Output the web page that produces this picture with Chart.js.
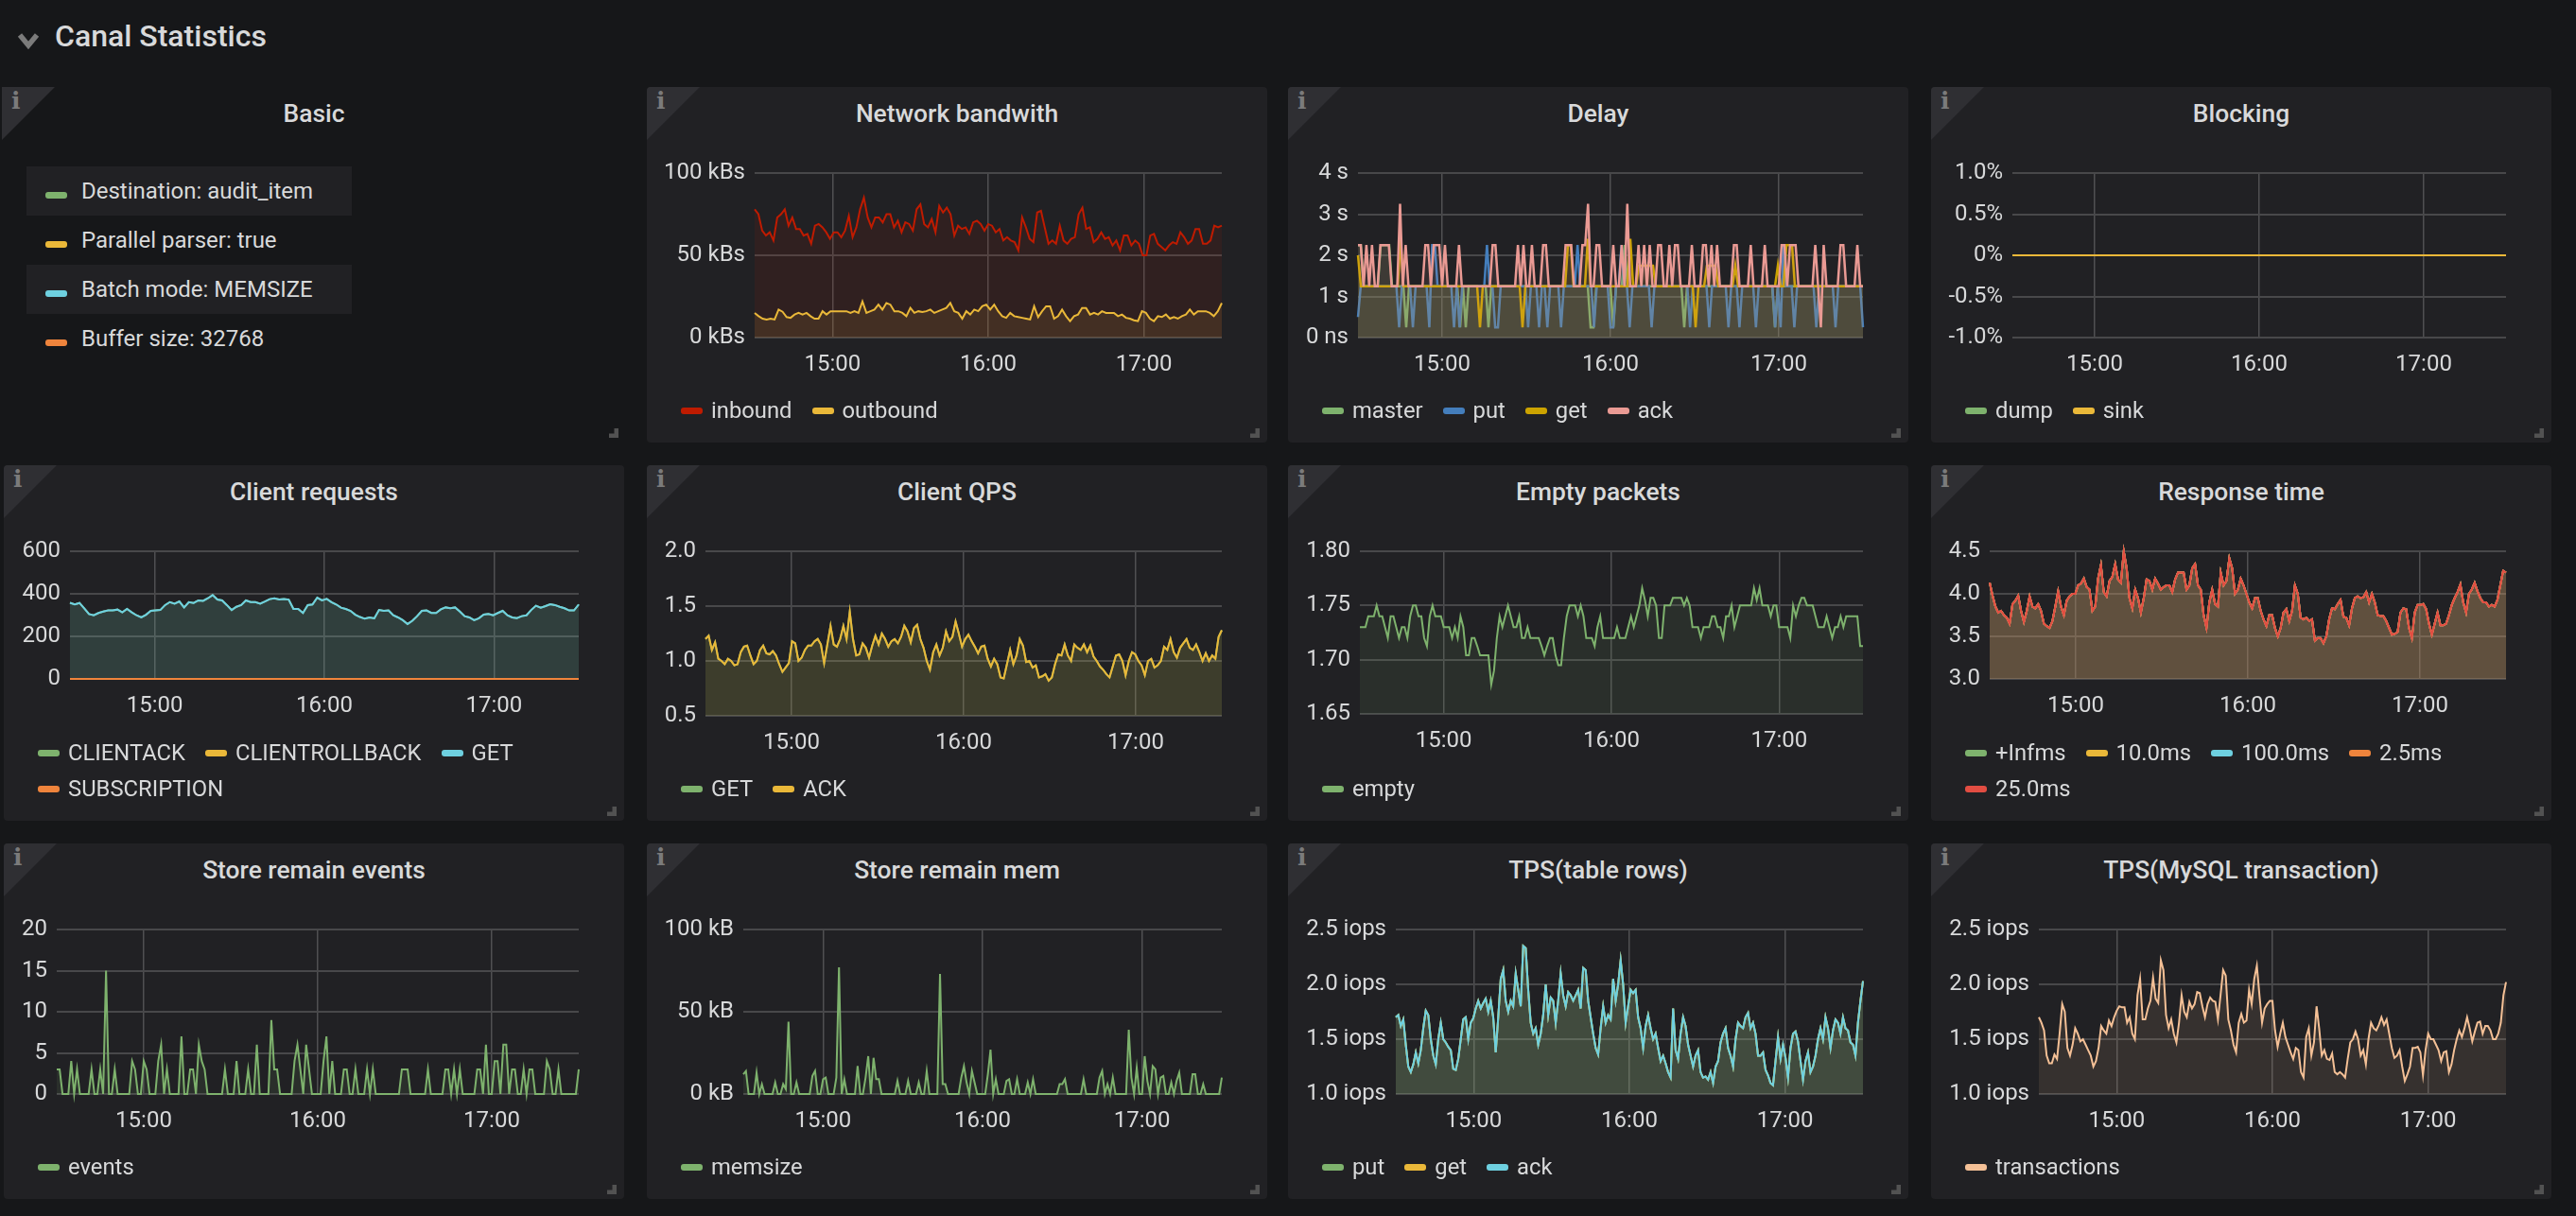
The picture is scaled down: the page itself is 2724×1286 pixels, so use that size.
<!DOCTYPE html>
<html>
<head>
<meta charset="utf-8">
<title>Canal Statistics</title>
<script src="https://cdn.jsdelivr.net/npm/chart.js@4"></script>
<style>
  html, body { margin: 0; background: #161719; }
  body { width: 2724px; height: 1286px; overflow: hidden; position: relative; font-family: Roboto, sans-serif; color: #d8d9da; }
  .row-title { position: absolute; left: 58px; top: 18px; font-size: 32px; line-height: 40px; font-weight: 500; }
  .chevron { position: absolute; left: 17px; top: 33px; width: 26px; height: 20px; }
  .panel { position: absolute; width: 656px; height: 376px; background: #212124; border-radius: 4px; overflow: hidden; }
  .panel.plain { background: transparent; overflow: visible; width: 660px; }
  .panel canvas { position: absolute; left: 0; top: 0; }
  .corner { position: absolute; left: 0; top: 0; width: 56px; height: 56px; background: #2f2f33; clip-path: polygon(0 0, 100% 0, 0 100%); }
  .corner-i { position: absolute; left: 10px; top: 0; font: bold 25px "DejaVu Serif", serif; line-height: 30px; color: #7b7b7b; }
  .panel-title { position: absolute; left: 0; right: 0; top: -1px; text-align: center; font-size: 26.4px; line-height: 58px; font-weight: 500; }
  .resize { position: absolute; right: 8px; bottom: 5px; width: 10px; height: 10px; background: #525252; clip-path: polygon(55% 0, 100% 0, 100% 100%, 0 100%, 0 55%, 55% 55%); }
  .legend { position: absolute; left: 36px; bottom: 15px; width: 590px; display: flex; flex-wrap: wrap; font-size: 23.8px; line-height: 38px; }
  .legend span.item { display: flex; align-items: center; margin-right: 21px; white-space: nowrap; }
  .swatch { display: inline-block; width: 23px; height: 7px; border-radius: 3px; margin-right: 9px; }
  .stat-list { position: absolute; left: 28px; top: 176px; width: 344px; font-size: 24px; }
  .stat-row { height: 52px; display: flex; align-items: center; padding-left: 20px; }
  .stat-row:nth-child(odd) { background: #212124; }
  .stat-row .swatch { margin-right: 15px; margin-top: 8px; }
</style>
</head>
<body>
<svg class="chevron" viewBox="0 0 26 20"><path d="M4 4 L13 15 L22 4" fill="none" stroke="#7b7b7b" stroke-width="5.5"/></svg>
<div class="row-title">Canal Statistics</div>
<div id="dash"></div>
<script>
// time axis, minutes since midnight
const X_MIN = 870, X_MAX = 1050;
const xTicks = [900, 960, 1020];
const xLabels = ['15:00', '16:00', '17:00'];

const basicRows = ['Destination: audit_item', 'Parallel parser: true', 'Batch mode: MEMSIZE', 'Buffer size: 32768'];

const flatZero = [0, 0];

const inbound = [78,75,65,62,64,59,73,75,78,68,73,66,66,62,63,57,68,69,67,64,60,64,64,61,65,74,61,67,78,85,73,67,73,73,70,75,75,67,71,64,70,69,65,78,81,69,67,72,64,80,76,79,75,62,68,66,67,63,70,71,69,65,69,68,64,66,59,61,59,58,53,73,67,60,58,76,77,67,57,59,57,68,59,57,60,61,75,79,66,67,58,60,64,60,61,56,59,53,62,62,56,59,57,50,50,62,63,57,55,53,56,58,57,64,61,57,59,66,66,57,57,59,68,67,68];
const outbound = [15,13,11.5,11,11.5,11,17,15.7,12.5,12,14,15,14,15,13,11.5,11.5,16,14,16,16,16,16,16,15,16,15,22,15,16,17,20,17,21,20,16,16,15,13,18,15,16,15.5,16,17,15,16,17,18,21,16,15,11.5,16,14,17,16,19,20,17,20,16,13,12,15,13,12.5,12,11.5,11,19,12.5,16,19,19,11.5,13,17,13,10,13,14,18,18,14,15,14,16,15,15,15,13,14,12,11.5,10.5,10,16,15,11.5,10,13,12.5,14,11.5,12.5,11.5,13,14,17,14,16,16,16,15,13,16,21];

const delayMaster = [2.25,2.25,1.25,1.25,1.25,1.25,1.25,1.25,2.25,2.25,2.25,2.25,1.25,1.25,1.25,1.25,1.25,0.25,1.25,1.25,1.25,1.25,1.25,1.25,1.25,1.25,1.25,1.25,1.25,1.25,1.25,1.25,1.25,1.25,1.25,1.25,0.25,1.25,0.25,1.25,1.25,1.25,1.25,1.25,1.25,1.25,0.25,1.25,1.25,1.25,1.25,1.25,1.25,1.25,1.25,1.25,1.25,1.25,1.25,1.25,1.25,1.25,1.25,1.25,1.25,1.25,1.25,1.25,1.25,1.25,1.25,1.25,1.25,1.25,1.25,1.25,1.25,1.25,1.25,1.25,1.25,1.25,0.25,0.25,1.25,1.25,1.25,1.25,1.25,1.25,0.25,1.25,1.25,1.25,2.25,1.25,1.25,1.25,1.25,1.25,1.25,1.25,1.25,1.25,1.25,1.25,1.25,1.25,1.25,1.25,1.25,1.25,1.25,1.25,1.25,0.25,1.25,1.25,1.25,1.25,1.25,1.25,1.25,1.25,1.25,1.25,1.25,1.25,1.25,1.25,1.25,1.25,1.25,1.25,1.25,1.25,1.25,1.25,1.25,1.25,1.25,1.25,1.25,1.25,1.25,1.25,1.25,0.25,1.25,1.25,1.25,1.25,1.25,1.25,1.25,1.25,1.25,1.25,1.25,1.25,1.25,1.25,1.25,1.25,1.25,1.25,1.25,1.25,1.25,1.25,1.25,1.25,1.25,1.25,1.25,1.25,1.25,1.25,1.25];
const delayPut = [0.5,1.25,1.25,1.25,1.25,1.25,1.25,1.25,1.25,1.25,1.25,1.25,1.25,1.25,1.25,0.25,1.25,1.25,1.25,1.25,0.25,1.25,1.25,1.25,1.25,1.25,0.25,2.25,2.25,1.25,1.25,1.25,1.25,1.25,1.25,0.25,1.25,0.25,1.25,1.25,1.25,1.25,1.25,1.25,1.25,1.25,1.25,2.25,1.25,1.25,0.25,0.25,1.25,1.25,1.25,1.25,1.25,1.25,1.25,1.25,1.25,1.25,0.25,1.25,1.25,1.25,0.25,1.25,1.25,0.25,1.25,1.25,1.25,1.25,0.25,1.25,1.25,1.25,1.25,1.25,2.25,1.25,1.25,1.25,1.25,1.25,0.25,1.25,1.25,1.25,1.25,1.25,0.25,0.25,1.25,1.25,2.25,1.25,1.25,0.25,1.25,1.25,1.25,1.25,1.25,1.25,1.25,0.25,1.25,1.25,1.25,1.25,1.25,1.25,1.25,1.25,1.25,1.25,1.25,1.25,1.25,0.25,1.25,1.25,1.25,1.25,1.25,1.25,0.25,1.25,1.25,1.25,1.25,1.25,1.25,0.25,1.25,1.25,1.25,0.25,1.25,1.25,1.25,1.25,1.25,0.25,1.25,1.25,1.25,1.25,1.25,1.25,0.25,1.25,0.25,2.25,1.25,1.25,1.25,0.25,1.25,1.25,1.25,1.25,1.25,1.25,1.25,0.25,1.25,1.25,1.25,1.25,1.25,1.25,0.25,1.25,1.25,1.25,1.25,1.25,1.25,1.25,1.25,1.25,0.25];
const delayGet = [2,1.25,1.25,1.25,1.25,1.25,1.25,1.25,1.25,1.25,1.25,1.25,1.25,1.25,1.25,2.4,1.25,1.25,1.25,1.25,1.25,1.25,1.25,1.25,1.25,1.25,1.25,1.25,1.25,1.25,1.25,1.25,1.25,1.25,1.25,1.25,1.25,1.25,1.25,1.25,1.25,1.25,1.25,0.25,1.25,1.25,1.25,1.25,1.25,1.25,1.25,1.25,1.25,1.25,1.25,1.25,1.25,1.25,0.25,1.25,1.25,1.25,1.25,1.25,1.25,1.25,1.25,1.25,1.25,1.25,1.25,1.25,1.25,1.25,2.25,2.25,1.25,1.25,1.25,1.25,1.25,2.4,1.25,1.25,1.25,1.25,1.25,1.25,1.25,1.25,1.25,1.25,1.25,1.25,1.25,1.25,2.4,1.25,1.25,1.75,1.75,1.75,1.75,1.75,1.75,1.25,1.25,1.25,1.25,1.25,1.25,1.25,1.25,1.25,1.25,1.25,1.25,1.25,1.25,0.25,1.25,1.25,1.25,1.75,1.75,1.75,1.75,1.25,1.25,1.25,1.25,1.25,1.25,1.75,1.25,1.25,1.25,1.25,1.25,1.25,1.25,1.25,1.25,1.25,1.25,1.25,1.25,1.25,1.75,1.25,1.25,2.25,2.25,2.25,1.25,1.25,1.25,1.25,1.25,1.25,1.25,1.25,1.25,1.25,1.25,1.25,1.25,1.25,1.25,1.25,1.25,1.25,1.25,1.25,1.25,1.25,1.25,1.25,1.25];
const delayAck = [2.25,2.25,1.25,2.25,1.25,2.25,1.25,1.25,2.25,2.25,
  2.25,2.25,1.25,1.25,1.25,3.25,1.25,2.25,1.25,1.25,
  1.25,1.25,1.25,1.25,2.25,2.25,1.25,2.25,2.25,2.25,
  1.25,2.25,1.25,1.25,1.25,1.25,2.25,1.25,1.25,1.25,
  1.25,1.25,1.25,1.25,1.25,1.25,1.25,1.25,2.25,2.25,
  1.25,1.25,1.25,1.25,1.25,1.25,1.25,2.25,1.25,2.25,
  1.25,1.25,2.25,1.25,1.25,1.25,2.25,2.25,1.25,1.25,
  1.25,1.25,1.25,1.25,2.25,2.25,2.25,1.25,1.25,1.25,
  2.25,2.25,3.25,1.25,1.25,2.25,2.25,1.25,1.25,1.25,
  1.25,2.25,1.25,1.25,2.25,1.25,3.25,1.25,1.25,1.25,
  2.25,1.25,2.25,1.25,2.25,1.25,1.25,2.25,2.25,1.25,
  1.25,2.25,1.25,2.25,2.25,1.25,1.25,1.25,1.25,2.25,
  1.25,1.25,1.25,2.25,2.25,1.25,2.25,1.25,2.25,1.25,
  1.25,1.25,1.25,1.25,2.25,2.25,1.25,1.25,1.25,1.25,
  2.25,1.25,1.25,1.25,1.25,2.25,1.25,1.25,1.25,1.25,
  1.25,2.25,2.25,1.25,2.25,2.25,2.25,1.25,1.25,1.25,
  1.25,1.25,1.25,2.25,1.25,0.25,2.25,1.25,1.25,1.25,
  1.25,1.25,2.25,2.25,1.25,1.25,1.25,1.25,2.25,1.25,1.25];

const clientGet = [358,350,357,332,305,299,310,317,322,322,326,313,329,313,299,289,302,320,322,324,347,361,354,364,336,361,357,369,367,379,394,373,369,347,324,339,347,369,361,361,354,364,375,379,373,376,373,329,329,310,347,350,382,369,376,361,350,335,329,320,302,291,283,289,285,324,320,322,299,289,276,258,273,295,320,322,310,310,327,336,332,336,317,295,289,276,285,302,305,299,310,320,299,289,286,295,299,324,344,335,342,351,347,339,332,322,322,350];

const clientQps = [1.2,1.23,1.1,1.17,1.02,1.0,.97,1.02,1.0,.96,.97,1.08,1.13,1.14,1.05,.97,1.0,1.1,1.14,1.07,1.06,1.09,1.05,.97,.9,.94,.98,1.18,1.16,1.0,1.03,1.1,1.14,1.14,1.18,1.2,1.15,.98,1.15,1.32,1.15,1.13,1.2,1.32,1.2,1.45,1.2,1.05,1.06,1.16,1.12,1.03,1.14,1.23,1.15,1.25,1.2,1.13,1.18,1.2,1.16,1.22,1.32,1.27,1.17,1.3,1.33,1.2,1.12,1.0,.92,1.08,1.15,1.05,1.12,1.27,1.18,1.22,1.36,1.25,1.13,1.2,1.24,1.18,1.13,1.07,1.13,1.14,1.02,.95,1.02,.97,.85,.84,.97,1.1,.97,1.05,1.2,1.14,.99,1.0,.94,.96,.85,.86,.88,.82,.85,.97,1.06,1.05,1.15,1.05,1.0,1.15,1.12,1.1,1.15,1.08,1.14,1.04,1.0,.95,.92,.88,.85,.95,1.05,1.06,1.0,.87,1.0,1.08,1.06,1.0,.96,.87,1.0,1.02,.94,.96,1.0,1.13,1.1,1.2,1.08,1.03,1.12,1.16,1.2,1.12,1.1,1.15,1.08,1.0,1.07,1.0,1.05,1.02,1.22,1.28];

const emptyPackets = [1.73,1.73,1.73,1.74,1.74,1.74,1.75,1.74,1.74,1.73,1.72,1.74,1.74,1.73,1.72,1.73,1.73,1.72,1.74,1.75,1.75,1.74,1.74,1.72,1.7125,1.74,1.75,1.74,1.74,1.74,1.73,1.73,1.73,1.72,1.73,1.72,1.74,1.73,1.704,1.704,1.72,1.72,1.7125,1.704,1.704,1.704,1.704,1.677,1.69,1.72,1.74,1.73,1.74,1.75,1.74,1.73,1.73,1.74,1.72,1.72,1.73,1.72,1.72,1.72,1.72,1.7125,1.704,1.7125,1.72,1.72,1.704,1.695,1.695,1.72,1.74,1.75,1.75,1.75,1.74,1.75,1.74,1.72,1.72,1.72,1.7125,1.73,1.74,1.72,1.72,1.72,1.72,1.72,1.73,1.72,1.72,1.72,1.73,1.74,1.73,1.74,1.75,1.766,1.755,1.74,1.757,1.757,1.75,1.72,1.72,1.75,1.75,1.75,1.757,1.757,1.757,1.757,1.75,1.757,1.75,1.73,1.73,1.73,1.72,1.73,1.73,1.73,1.74,1.74,1.73,1.73,1.72,1.74,1.74,1.75,1.73,1.74,1.75,1.75,1.75,1.75,1.75,1.766,1.755,1.766,1.75,1.75,1.75,1.74,1.75,1.75,1.73,1.73,1.73,1.73,1.72,1.75,1.74,1.75,1.757,1.757,1.75,1.75,1.75,1.74,1.73,1.73,1.73,1.74,1.73,1.72,1.73,1.73,1.74,1.73,1.74,1.74,1.74,1.74,1.74,1.7125,1.7125];

const responseTime = [4.13,3.98,3.85,3.78,3.8,3.75,3.72,3.65,3.88,3.92,3.98,3.8,3.67,3.8,3.97,3.85,3.83,3.88,3.8,3.65,3.62,3.6,3.68,3.85,4.03,3.85,3.75,3.92,3.97,4.0,4.0,4.1,4.12,4.18,4.08,4.05,3.8,3.85,4.18,4.34,4.02,3.97,4.15,4.2,4.35,4.17,4.13,4.5,4.3,3.95,3.83,4.05,3.95,3.78,3.95,4.17,4.15,4.05,4.18,4.12,4.05,4.08,4.1,4.1,4.02,4.17,4.25,4.25,4.25,4.05,4.1,4.3,4.35,4.1,4.05,3.75,3.6,3.9,4.05,3.88,3.85,4.25,4.1,4.15,4.42,4.3,4.0,4.05,4.18,4.1,4.0,3.9,3.83,3.95,3.95,3.8,3.7,3.62,3.75,3.75,3.6,3.5,3.6,3.78,3.82,3.68,3.8,4.1,4.0,3.72,3.7,3.72,3.68,3.7,3.45,3.48,3.48,3.42,3.5,3.7,3.83,3.82,3.88,3.93,3.73,3.72,3.63,3.83,3.95,3.97,3.95,3.96,4.02,3.9,4.0,3.9,3.75,3.74,3.74,3.68,3.6,3.52,3.53,3.55,3.78,3.83,3.82,3.6,3.48,3.78,3.87,3.87,3.88,3.82,3.65,3.52,3.65,3.78,3.63,3.63,3.65,3.75,3.87,3.95,4.02,4.11,3.9,3.78,4.0,4.05,4.13,4.03,3.95,3.9,3.9,3.85,3.87,3.85,3.93,4.1,4.27,4.25];

const storeEvents = [3,3,0,0,0,4,0,3,0,0,
  0,0,3,0,0,3,0,15,0,0,
  3,0,0,0,0,0,4,3,0,0,
  4,3,0,0,0,4,6,0,3,0,
  0,0,0,7,0,0,3,3,0,6,
  4,3,0,0,0,0,0,0,3,0,
  0,0,4,0,0,0,3,0,0,6,
  0,0,0,0,9,3,3,0,0,0,
  0,0,4,6,3,0,6,3,0,0,
  0,0,4,7,0,4,0,0,0,3,
  3,0,0,3,0,0,0,3,0,3,
  0,0,0,0,0,0,0,0,0,3,
  3,3,0,0,0,0,0,0,3,0,
  0,0,0,0,3,3,0,3,0,3,
  0,0,0,0,0,3,3,0,6,0,
  0,4,4,0,6,6,0,3,3,0,
  0,3,0,3,3,0,0,0,0,4,
  3,0,0,3,0,0,0,0,0,0,3];

const storeMem = [12,14,0,0,0,13,0,6,0,0,
  0,0,7,0,0,6,3,44,0,0,
  7,0,0,0,0,0,11,14,0,0,
  9,10,0,0,0,10,77,0,9,0,
  0,0,0,17,0,0,10,23,0,22,
  9,9,0,0,0,0,0,0,8,0,
  0,0,8,0,0,0,7,0,0,14,
  0,0,0,0,73,6,6,0,0,0,
  0,0,10,17,7,0,14,7,0,0,
  0,0,12,27,0,9,0,0,0,8,
  9,0,0,9,0,0,0,7,0,9,
  0,0,0,0,0,0,0,0,0,6,
  6,9,0,0,0,0,0,0,9,0,
  0,0,0,0,10,14,0,6,0,10,
  0,0,0,0,0,39,10,0,16,0,
  0,23,8,0,17,15,0,10,11,0,
  0,7,0,8,13,0,0,0,0,12,
  12,0,0,6,0,0,0,0,0,0,10];

const tpsRows = [1.7,1.72,1.62,1.68,1.45,1.25,1.2,1.27,1.38,1.28,1.4,1.6,1.76,1.72,1.5,1.35,1.27,1.5,1.65,1.5,1.47,1.43,1.4,1.23,1.22,1.32,1.5,1.68,1.7,1.5,1.65,1.69,1.78,1.85,1.78,1.83,1.87,1.75,1.85,1.7,1.38,1.7,2.05,2.13,1.85,1.75,1.85,1.8,2.1,1.95,1.8,2.35,2.33,1.95,1.65,1.55,1.6,1.45,1.55,1.72,2.0,1.72,1.88,1.85,1.65,1.85,2.1,1.9,1.8,1.93,1.9,1.85,1.9,1.95,1.78,2.15,2.13,1.85,1.7,1.55,1.42,1.36,1.6,1.8,1.65,1.72,1.68,2.05,1.85,2.0,2.22,2.0,1.65,1.8,1.95,1.92,1.95,1.7,1.6,1.42,1.62,1.72,1.6,1.5,1.55,1.42,1.3,1.35,1.28,1.2,1.15,1.78,1.4,1.32,1.55,1.7,1.62,1.45,1.35,1.25,1.35,1.4,1.2,1.15,1.16,1.13,1.2,1.1,1.25,1.3,1.47,1.55,1.6,1.42,1.35,1.25,1.5,1.65,1.62,1.6,1.7,1.74,1.6,1.65,1.55,1.35,1.35,1.38,1.22,1.17,1.1,1.08,1.3,1.52,1.32,1.45,1.33,1.15,1.42,1.55,1.57,1.48,1.3,1.13,1.3,1.38,1.2,1.25,1.35,1.5,1.6,1.5,1.7,1.6,1.42,1.58,1.68,1.65,1.55,1.7,1.6,1.58,1.47,1.45,1.35,1.65,1.85,2.03];

const tpsMysql = [1.7,1.65,1.58,1.35,1.28,1.28,1.36,1.32,1.55,1.82,1.75,1.42,1.35,1.45,1.6,1.55,1.48,1.5,1.45,1.4,1.35,1.25,1.3,1.42,1.62,1.58,1.55,1.67,1.62,1.7,1.76,1.8,1.79,1.79,1.65,1.7,1.55,1.5,1.9,2.05,1.68,1.68,1.78,1.85,2.06,1.87,1.83,2.22,2.13,1.72,1.6,1.68,1.55,1.47,1.65,1.9,1.75,1.7,1.84,1.78,1.82,1.93,1.92,1.8,1.7,1.82,1.88,1.85,1.84,1.68,1.9,2.13,2.08,1.68,1.58,1.45,1.38,1.65,1.73,1.65,1.67,1.95,1.82,2.05,2.17,1.9,1.65,1.78,1.82,1.85,1.85,1.58,1.43,1.55,1.65,1.52,1.45,1.38,1.32,1.42,1.4,1.2,1.15,1.52,1.6,1.35,1.47,1.8,1.6,1.35,1.4,1.32,1.31,1.37,1.2,1.18,1.2,1.18,1.15,1.32,1.47,1.5,1.57,1.5,1.35,1.4,1.27,1.5,1.65,1.6,1.58,1.63,1.7,1.63,1.68,1.55,1.42,1.33,1.35,1.4,1.25,1.12,1.18,1.25,1.42,1.42,1.43,1.38,1.17,1.4,1.55,1.5,1.5,1.45,1.4,1.3,1.38,1.39,1.2,1.27,1.4,1.5,1.58,1.52,1.6,1.7,1.6,1.48,1.57,1.65,1.66,1.55,1.62,1.62,1.58,1.5,1.5,1.55,1.65,1.9,2.02];

// y axis ticks and their labels
const netTicks = [0, 50, 100], netLabels = ['0 kBs', '50 kBs', '100 kBs'];
const delayTicks = [0, 1, 2, 3, 4], delayLabels = ['0 ns', '1 s', '2 s', '3 s', '4 s'];
const blockTicks = [-1, -0.5, 0, 0.5, 1], blockLabels = ['-1.0%', '-0.5%', '0%', '0.5%', '1.0%'];
const reqTicks = [0, 200, 400, 600], reqLabels = ['0', '200', '400', '600'];
const qpsTicks = [0.5, 1, 1.5, 2], qpsLabels = ['0.5', '1.0', '1.5', '2.0'];
const emptyTicks = [1.65, 1.7, 1.75, 1.8], emptyLabels = ['1.65', '1.70', '1.75', '1.80'];
const respTicks = [3, 3.5, 4, 4.5], respLabels = ['3.0', '3.5', '4.0', '4.5'];
const eventTicks = [0, 5, 10, 15, 20], eventLabels = ['0', '5', '10', '15', '20'];
const memTicks = [0, 50, 100], memLabels = ['0 kB', '50 kB', '100 kB'];
const tpsTicks = [1, 1.5, 2, 2.5], tpsLabels = ['1.0 iops', '1.5 iops', '2.0 iops', '2.5 iops'];

const GREEN = '#7eb26d', YELLOW = '#eab839', CYAN = '#6ed0e0', ORANGE = '#ef843c', RED = '#e24d42';

const colLeft = [4, 684, 1362, 2042];
const rowTop = [92, 492, 892];
const PANEL_H = 376, PANEL_W = 656, X_AXIS_H = 60;

const panels = [
  { title: 'Network bandwith', col: 1, row: 0, plot: [798, 183, 1292, 357], ticks: netTicks, labels: netLabels,
    series: [['inbound', inbound, '#bf1b00'], ['outbound', outbound, YELLOW]] },
  { title: 'Delay', col: 2, row: 0, plot: [1436, 183, 1970, 357], ticks: delayTicks, labels: delayLabels, lineW: 2.5,
    series: [['master', delayMaster, GREEN], ['put', delayPut, '#447ebc'], ['get', delayGet, '#cca300'], ['ack', delayAck, '#ea9a94']] },
  { title: 'Blocking', col: 3, row: 0, plot: [2128, 183, 2650, 357], ticks: blockTicks, labels: blockLabels,
    series: [['dump', flatZero, GREEN], ['sink', flatZero, YELLOW]] },
  { title: 'Client requests', col: 0, row: 1, plot: [74, 583, 612, 718], ticks: reqTicks, labels: reqLabels,
    series: [['CLIENTACK', clientGet, GREEN], ['CLIENTROLLBACK', flatZero, YELLOW], ['GET', clientGet, CYAN], ['SUBSCRIPTION', flatZero, ORANGE]] },
  { title: 'Client QPS', col: 1, row: 1, plot: [746, 583, 1292, 757], ticks: qpsTicks, labels: qpsLabels,
    series: [['GET', clientQps, GREEN], ['ACK', clientQps, YELLOW]] },
  { title: 'Empty packets', col: 2, row: 1, plot: [1438, 583, 1970, 755], ticks: emptyTicks, labels: emptyLabels,
    series: [['empty', emptyPackets, GREEN]] },
  { title: 'Response time', col: 3, row: 1, plot: [2104, 583, 2650, 718], ticks: respTicks, labels: respLabels,
    series: [['+Infms', responseTime, GREEN], ['10.0ms', responseTime, YELLOW], ['100.0ms', responseTime, CYAN], ['2.5ms', responseTime, ORANGE], ['25.0ms', responseTime, RED]] },
  { title: 'Store remain events', col: 0, row: 2, plot: [60, 983, 612, 1157], ticks: eventTicks, labels: eventLabels,
    series: [['events', storeEvents, GREEN]] },
  { title: 'Store remain mem', col: 1, row: 2, plot: [786, 983, 1292, 1157], ticks: memTicks, labels: memLabels,
    series: [['memsize', storeMem, GREEN]] },
  { title: 'TPS(table rows)', col: 2, row: 2, plot: [1476, 983, 1970, 1157], ticks: tpsTicks, labels: tpsLabels,
    series: [['put', tpsRows, GREEN], ['get', tpsRows, YELLOW], ['ack', tpsRows, CYAN]] },
  { title: 'TPS(MySQL transaction)', col: 3, row: 2, plot: [2156, 983, 2650, 1157], ticks: tpsTicks, labels: tpsLabels,
    series: [['transactions', tpsMysql, '#f4c096']] }
];

function alpha(hex, a) {
  const n = parseInt(hex.slice(1), 16);
  return `rgba(${n >> 16},${(n >> 8) & 255},${n & 255},${a})`;
}

function toPoints(values) {
  const step = (X_MAX - X_MIN) / (values.length - 1);
  return values.map((v, i) => ({ x: X_MIN + i * step, y: v }));
}

function panelShell(left, top, title, extraClass) {
  const el = document.createElement('div');
  el.className = 'panel' + (extraClass ? ' ' + extraClass : '');
  el.style.left = left + 'px';
  el.style.top = top + 'px';
  el.innerHTML = `<div class="corner"></div><div class="corner-i">i</div>
    <div class="panel-title">${title}</div><div class="resize"></div>`;
  document.getElementById('dash').appendChild(el);
  return el;
}

// the Basic panel has no chart, only the singlestat style list
panelShell(2, rowTop[0], 'Basic', 'plain');
const basicColors = [GREEN, YELLOW, CYAN, ORANGE];
const list = document.createElement('div');
list.className = 'stat-list';
list.innerHTML = basicRows.map((t, i) =>
  `<div class="stat-row"><span class="swatch" style="background:${basicColors[i]}"></span>${t}</div>`).join('');
document.getElementById('dash').appendChild(list);

panels.forEach(p => {
  const left = colLeft[p.col], top = rowTop[p.row];
  const el = panelShell(left, top, p.title);

  const canvas = document.createElement('canvas');
  canvas.width = PANEL_W;
  canvas.height = PANEL_H;
  canvas.style.width = PANEL_W + 'px';
  canvas.style.height = PANEL_H + 'px';
  el.appendChild(canvas);

  const legend = document.createElement('div');
  legend.className = 'legend';
  legend.innerHTML = p.series.map(s =>
    `<span class="item"><span class="swatch" style="background:${s[2]}"></span>${s[0]}</span>`).join('');
  el.appendChild(legend);

  const [x0, y0, x1, y1] = p.plot;
  new Chart(canvas, {
    type: 'line',
    data: {
      datasets: p.series.map((s, i) => ({
        label: s[0],
        data: toPoints(s[1]),
        borderColor: s[2],
        backgroundColor: alpha(s[2], 0.1),
        borderWidth: p.lineW || 2,
        fill: 'origin',
        pointRadius: 0,
        tension: 0,
        clip: false,
        order: -i   // last series painted on top, like grafana
      }))
    },
    options: {
      responsive: false,
      animation: false,
      parsing: false,
      layout: { padding: { left: 0, top: y0 - top, right: left + PANEL_W - x1, bottom: PANEL_H - (y1 - top) - X_AXIS_H } },
      plugins: { legend: { display: false }, tooltip: { enabled: false } },
      scales: {
        x: {
          type: 'linear', min: X_MIN, max: X_MAX,
          afterBuildTicks: s => { s.ticks = xTicks.map(v => ({ value: v })); },
          afterFit: s => { s.height = X_AXIS_H; },
          grid: { color: '#505052', lineWidth: 1.5, drawTicks: false },
          border: { display: false },
          ticks: {
            color: '#d8d9da', font: { family: 'Roboto', size: 24 }, padding: 15,
            maxRotation: 0, autoSkip: false,
            callback: v => xLabels[xTicks.indexOf(v)]
          }
        },
        y: {
          type: 'linear', min: p.ticks[0], max: p.ticks[p.ticks.length - 1],
          afterBuildTicks: s => { s.ticks = p.ticks.map(v => ({ value: v })); },
          afterFit: s => { s.width = x0 - left; },
          grid: { color: '#48484a', lineWidth: 2, drawTicks: false },
          border: { display: false },
          ticks: {
            color: '#d8d9da', font: { family: 'Roboto', size: 24 }, padding: 10,
            autoSkip: false,
            callback: v => p.labels[p.ticks.indexOf(v)]
          }
        }
      }
    }
  });
});
</script>
</body>
</html>
